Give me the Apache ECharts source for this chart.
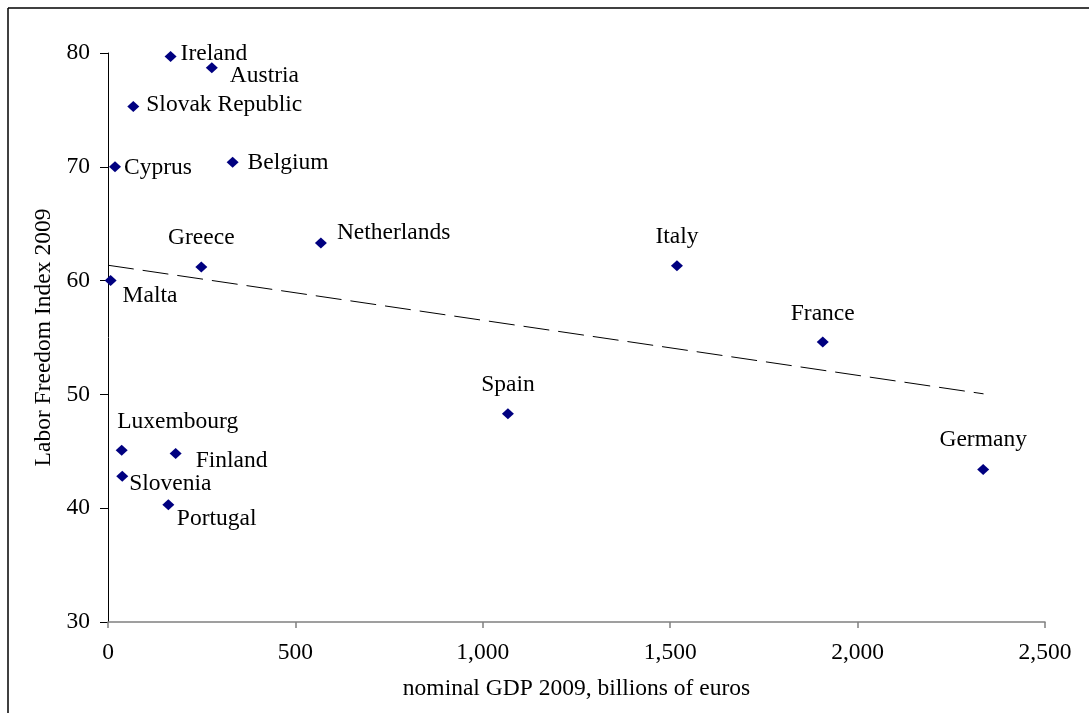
<!DOCTYPE html>
<html>
<head>
<meta charset="utf-8">
<script src="https://cdn.jsdelivr.net/npm/echarts@6/dist/echarts.min.js"></script>
<style>
html,body{margin:0;padding:0;background:#fff;}
#chart{width:1089px;height:713px;}
</style>
</head>
<body>
<div id="chart"></div>
<script>
// ---- data ----
var countries = ["Ireland","Austria","Slovak Republic","Cyprus","Belgium","Netherlands","Malta","Greece","Italy","France","Spain","Germany","Luxembourg","Finland","Slovenia","Portugal"];
var gdp = [167, 277, 67.5, 18.7, 332.5, 568, 7, 249, 1518, 1907, 1067, 2335, 36.5, 180.5, 38, 161];
var laborFreedom = [79.7, 78.7, 75.3, 70.0, 70.4, 63.3, 60.0, 61.2, 61.3, 54.6, 48.3, 43.4, 45.1, 44.8, 42.8, 40.3];
var trendX = [0, 2336];
var trendY = [61.35, 50.05];
var xTicks = [0, 500, 1000, 1500, 2000, 2500];
var yTicks = [30, 40, 50, 60, 70, 80];
var xTitle = "nominal GDP 2009, billions of euros";
var yTitle = "Labor Freedom Index 2009";

// ---- label placement (style, not data) ----
var labelPlace = {
  "Ireland": ["left", 10, -2.5],
  "Austria": ["left", 18, 8],
  "Slovak Republic": ["left", 13, -2],
  "Cyprus": ["left", 9, 1],
  "Belgium": ["left", 15, 1],
  "Netherlands": ["left", 16, -10],
  "Malta": ["left", 12, 15],
  "Greece": ["center", 0, -29],
  "Italy": ["center", 0, -29],
  "France": ["center", 0, -28],
  "Spain": ["center", 0, -29],
  "Germany": ["center", 0, -29.5],
  "Luxembourg": ["left", -4.5, -28],
  "Finland": ["left", 20, 7],
  "Slovenia": ["left", 7, 7],
  "Portugal": ["left", 8.5, 14]
};

var FONT = "'Liberation Serif', 'Times New Roman', serif";
var FS = 23.5;

var pts = countries.map(function (c, i) {
  var p = labelPlace[c];
  return {
    name: c,
    value: [gdp[i], laborFreedom[i]],
    label: {
      show: true,
      position: 'inside',
      align: p[0],
      verticalAlign: 'middle',
      offset: [p[1], p[2]],
      formatter: c,
      color: '#000',
      textBorderWidth: 0,
      textBorderColor: 'transparent',
      fontFamily: FONT,
      fontSize: FS
    }
  };
});
var trend = trendX.map(function (x, i) { return [x, trendY[i]]; });

var chart = echarts.init(document.getElementById('chart'), null, {renderer: 'canvas'});
chart.setOption({
  animation: false,
  backgroundColor: '#fff',
  grid: {left: 108, right: 44, top: 53, bottom: 91, containLabel: false},
  xAxis: {
    type: 'value',
    min: xTicks[0], max: xTicks[xTicks.length - 1], interval: 500,
    name: xTitle, nameLocation: 'middle', nameGap: 55,
    nameTextStyle: {fontFamily: FONT, fontSize: FS, color: '#000'},
    axisLine: {show: true, onZero: false, lineStyle: {color: '#808080', width: 1.5}},
    axisTick: {show: true, inside: false, length: 6, lineStyle: {color: '#808080', width: 1.5}},
    axisLabel: {
      margin: 19, fontFamily: FONT, fontSize: FS, color: '#000',
      formatter: function (v) { return v.toLocaleString('en-US'); }
    },
    splitLine: {show: false}
  },
  yAxis: {
    type: 'value',
    min: yTicks[0], max: yTicks[yTicks.length - 1], interval: 10,
    name: yTitle, nameLocation: 'middle', nameGap: 52, nameRotate: 90,
    nameTextStyle: {fontFamily: FONT, fontSize: FS, color: '#000'},
    axisLine: {show: true, onZero: false, lineStyle: {color: '#000', width: 1}},
    axisTick: {show: true, inside: false, length: 8, lineStyle: {color: '#000', width: 1}},
    axisLabel: {margin: 18, fontFamily: FONT, fontSize: FS, color: '#000'},
    splitLine: {show: false}
  },
  series: [
    {
      type: 'line',
      data: trend,
      symbol: 'none',
      silent: true,
      lineStyle: {color: '#000', width: 1, type: [26, 9]},
      z: 1
    },
    {
      type: 'scatter',
      data: pts,
      symbol: 'diamond',
      symbolSize: [12, 11],
      itemStyle: {color: '#000080', opacity: 1},
      z: 2
    }
  ],
  graphic: [
    {type: 'line', shape: {x1: 8, y1: 8, x2: 1089, y2: 8}, style: {stroke: '#000', lineWidth: 1.5}},
    {type: 'line', shape: {x1: 8, y1: 8, x2: 8, y2: 713}, style: {stroke: '#000', lineWidth: 1.5}}
  ]
});
</script>
</body>
</html>
